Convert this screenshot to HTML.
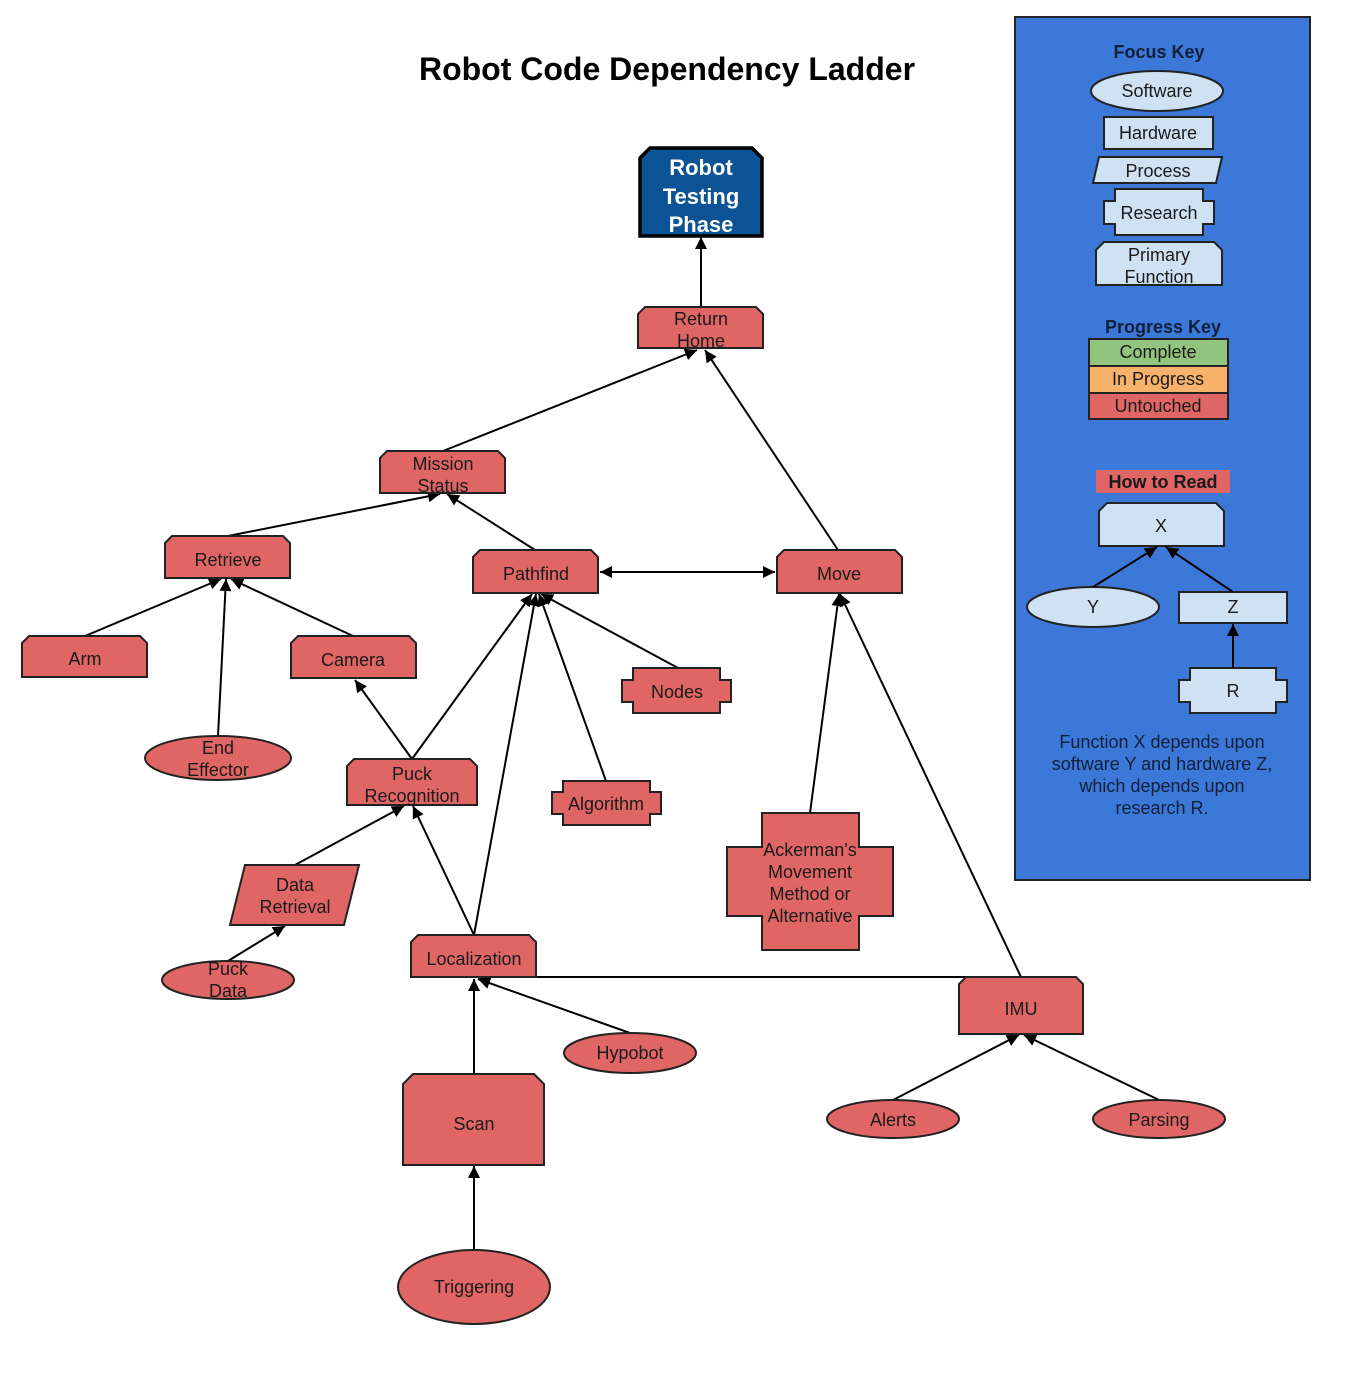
<!DOCTYPE html>
<html><head><meta charset="utf-8"><style>
html,body{margin:0;padding:0;background:#fff;}
svg{display:block;}
text{font-family:"Liberation Sans",Arial,sans-serif;font-size:18px;fill:#1a1a1a;text-anchor:middle;}
.r{fill:#e06666;stroke:#222;stroke-width:2;}
.l{fill:#cfe2f3;stroke:#222;stroke-width:2;}
.e{stroke:#000;stroke-width:2;fill:none;marker-end:url(#a);}
.k{fill:#10203a;}
</style></head><body>
<svg width="1355" height="1395" viewBox="0 0 1355 1395" xmlns="http://www.w3.org/2000/svg">
<defs>
<marker id="a" viewBox="0 0 10 10" refX="10" refY="5" markerWidth="13" markerHeight="12" markerUnits="userSpaceOnUse" orient="auto"><path d="M0,0 L10,5 L0,10 z" fill="#000"/></marker>
<marker id="b" viewBox="0 0 10 10" refX="0" refY="5" markerWidth="13" markerHeight="12" markerUnits="userSpaceOnUse" orient="auto"><path d="M10,0 L0,5 L10,10 z" fill="#000"/></marker>
</defs>
<text x="667" y="80" style="font-size:32px;font-weight:bold;fill:#000">Robot Code Dependency Ladder</text>

<!-- legend panel -->
<rect x="1015" y="17" width="295" height="863" fill="#3c78d8" stroke="#222" stroke-width="2"/>
<text x="1159" y="58" class="k" style="font-weight:bold">Focus Key</text>
<ellipse cx="1157" cy="91" rx="66" ry="20" class="l"/><text x="1157" y="97">Software</text>
<rect x="1104" y="117" width="109" height="32" class="l"/><text x="1158" y="139">Hardware</text>
<polygon points="1099,157 1222,157 1216,183 1093,183" class="l"/><text x="1158" y="177">Process</text>
<polygon points="1115,189 1203,189 1203,201 1214,201 1214,224 1203,224 1203,235 1115,235 1115,224 1104,224 1104,201 1115,201" class="l"/><text x="1159" y="219">Research</text>
<polygon points="1104,242 1214,242 1222,250 1222,285 1096,285 1096,250" class="l"/><text x="1159" y="261">Primary</text><text x="1159" y="283">Function</text>
<text x="1163" y="333" class="k" style="font-weight:bold">Progress Key</text>
<rect x="1089" y="339" width="139" height="27" fill="#93c47d" stroke="#222" stroke-width="2"/><text x="1158" y="358">Complete</text>
<rect x="1089" y="366" width="139" height="27" fill="#f6b26b" stroke="#222" stroke-width="2"/><text x="1158" y="385">In Progress</text>
<rect x="1089" y="393" width="139" height="26" fill="#e06666" stroke="#222" stroke-width="2"/><text x="1158" y="412">Untouched</text>
<rect x="1096" y="470" width="134" height="23" fill="#e06666"/><text x="1163" y="488" style="font-weight:bold">How to Read</text>
<polygon points="1107,503 1216,503 1224,511 1224,546 1099,546 1099,511" class="l"/><text x="1161" y="532">X</text>
<ellipse cx="1093" cy="607" rx="66" ry="20" class="l"/><text x="1093" y="613">Y</text>
<rect x="1179" y="592" width="108" height="31" class="l"/><text x="1233" y="613">Z</text>
<polygon points="1190,668 1276,668 1276,680 1287,680 1287,702 1276,702 1276,713 1190,713 1190,702 1179,702 1179,680 1190,680" class="l"/><text x="1233" y="697">R</text>
<line x1="1093" y1="587" x2="1157" y2="547" class="e"/>
<line x1="1233" y1="592" x2="1166" y2="547" class="e"/>
<line x1="1233" y1="668" x2="1233" y2="624" class="e"/>
<text x="1162" y="748" class="k">Function X depends upon</text>
<text x="1162" y="770" class="k">software Y and hardware Z,</text>
<text x="1162" y="792" class="k">which depends upon</text>
<text x="1162" y="814" class="k">research R.</text>

<!-- edges -->
<line x1="701" y1="307" x2="701" y2="237" class="e"/>
<line x1="443" y1="451" x2="697" y2="350" class="e"/>
<line x1="838" y1="550" x2="705" y2="350" class="e"/>
<line x1="228" y1="536" x2="440" y2="494" class="e"/>
<line x1="535" y1="550" x2="447" y2="494" class="e"/>
<line x1="600" y1="572" x2="775" y2="572" class="e" marker-start="url(#b)"/>
<line x1="85" y1="636" x2="221" y2="579" class="e"/>
<line x1="218" y1="736" x2="226" y2="579" class="e"/>
<line x1="353" y1="636" x2="231" y2="579" class="e"/>
<line x1="412" y1="759" x2="355" y2="680" class="e"/>
<line x1="412" y1="759" x2="532" y2="594" class="e"/>
<line x1="474" y1="935" x2="536" y2="594" class="e"/>
<line x1="606" y1="781" x2="539" y2="594" class="e"/>
<line x1="678" y1="668" x2="541" y2="594" class="e"/>
<line x1="295" y1="865" x2="404" y2="806" class="e"/>
<line x1="474" y1="935" x2="413" y2="806" class="e"/>
<line x1="228" y1="961" x2="285" y2="926" class="e"/>
<line x1="1021" y1="977" x2="840" y2="594" class="e"/>
<line x1="1021" y1="977" x2="477" y2="977" class="e"/>
<line x1="810" y1="813" x2="839" y2="594" class="e"/>
<line x1="474" y1="1074" x2="474" y2="979" class="e"/>
<line x1="630" y1="1033" x2="478" y2="979" class="e"/>
<line x1="893" y1="1100" x2="1019" y2="1035" class="e"/>
<line x1="1159" y1="1100" x2="1024" y2="1035" class="e"/>
<line x1="474" y1="1250" x2="474" y2="1166" class="e"/>

<!-- nodes -->
<polygon points="650,148 752,148 762,158 762,236 640,236 640,158" fill="#0b5394" stroke="#000" stroke-width="3.5"/>
<text x="701" y="175" style="fill:#fff;font-weight:bold;font-size:22px">Robot</text>
<text x="701" y="204" style="fill:#fff;font-weight:bold;font-size:22px">Testing</text>
<text x="701" y="232" style="fill:#fff;font-weight:bold;font-size:22px">Phase</text>

<polygon points="645,307 756,307 763,314 763,348 638,348 638,314" class="r"/><text x="701" y="325">Return</text><text x="701" y="347">Home</text>
<polygon points="387,451 498,451 505,458 505,493 380,493 380,458" class="r"/><text x="443" y="470">Mission</text><text x="443" y="492">Status</text>
<polygon points="172,536 283,536 290,543 290,578 165,578 165,543" class="r"/><text x="228" y="566">Retrieve</text>
<polygon points="480,550 591,550 598,557 598,593 473,593 473,557" class="r"/><text x="536" y="580">Pathfind</text>
<polygon points="784,550 895,550 902,557 902,593 777,593 777,557" class="r"/><text x="839" y="580">Move</text>
<polygon points="29,636 140,636 147,643 147,677 22,677 22,643" class="r"/><text x="85" y="665">Arm</text>
<polygon points="298,636 409,636 416,643 416,678 291,678 291,643" class="r"/><text x="353" y="666">Camera</text>
<polygon points="633,668 720,668 720,680 731,680 731,702 720,702 720,713 633,713 633,702 622,702 622,680 633,680" class="r"/><text x="677" y="698">Nodes</text>
<ellipse cx="218" cy="758" rx="73" ry="22" class="r"/><text x="218" y="754">End</text><text x="218" y="776">Effector</text>
<polygon points="354,759 470,759 477,766 477,805 347,805 347,766" class="r"/><text x="412" y="780">Puck</text><text x="412" y="802">Recognition</text>
<polygon points="563,781 650,781 650,792 661,792 661,814 650,814 650,825 563,825 563,814 552,814 552,792 563,792" class="r"/><text x="606" y="810">Algorithm</text>
<polygon points="762,813 859,813 859,847 893,847 893,916 859,916 859,950 762,950 762,916 727,916 727,847 762,847" class="r"/>
<text x="810" y="856">Ackerman's</text><text x="810" y="878">Movement</text><text x="810" y="900">Method or</text><text x="810" y="922">Alternative</text>
<polygon points="245,865 359,865 344,925 230,925" class="r"/><text x="295" y="891">Data</text><text x="295" y="913">Retrieval</text>
<ellipse cx="228" cy="980" rx="66" ry="19" class="r"/><text x="228" y="975">Puck</text><text x="228" y="997">Data</text>
<polygon points="418,935 529,935 536,942 536,977 411,977 411,942" class="r"/><text x="474" y="965">Localization</text>
<polygon points="966,977 1076,977 1083,984 1083,1034 959,1034 959,984" class="r"/><text x="1021" y="1015">IMU</text>
<ellipse cx="630" cy="1053" rx="66" ry="20" class="r"/><text x="630" y="1059">Hypobot</text>
<polygon points="413,1074 534,1074 544,1084 544,1165 403,1165 403,1084" class="r"/><text x="474" y="1130">Scan</text>
<ellipse cx="893" cy="1119" rx="66" ry="19" class="r"/><text x="893" y="1126">Alerts</text>
<ellipse cx="1159" cy="1119" rx="66" ry="19" class="r"/><text x="1159" y="1126">Parsing</text>
<ellipse cx="474" cy="1287" rx="76" ry="37" class="r"/><text x="474" y="1293">Triggering</text>
</svg>
</body></html>
